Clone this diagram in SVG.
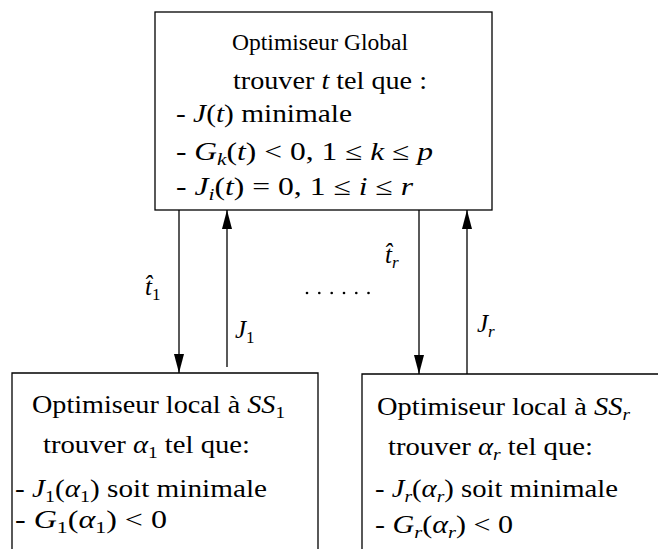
<svg xmlns="http://www.w3.org/2000/svg" width="658" height="549" viewBox="0 0 658 549">
  <style>
    .box { fill: none; stroke: #000; stroke-width: 1.3; }
    .t { font-family: "Liberation Serif", "DejaVu Serif", serif; font-size: 25px; fill: #000; }
    .title { font-family: "Liberation Serif", "DejaVu Serif", serif; font-size: 23.5px; fill: #000; }
    .m { font-style: italic; }
    .s { font-size: 17px; }
    .wire { stroke: #000; stroke-width: 1.3; fill: none; }
  </style>
  <defs>
    <marker id="head" markerUnits="userSpaceOnUse" markerWidth="19" markerHeight="10" refX="19" refY="5" orient="auto">
      <path d="M0,0 L19,5 L0,10 z" fill="#000"/>
    </marker>
  </defs>

  <!-- global optimiser -->
  <g id="global">
    <rect class="box" x="155" y="12" width="337" height="198"/>
    <text class="title" x="232" y="50" textLength="176" lengthAdjust="spacingAndGlyphs">Optimiseur Global</text>
    <text class="t" x="233" y="89" textLength="194" lengthAdjust="spacingAndGlyphs">trouver <tspan class="m">t</tspan> tel que :</text>
    <text class="t" x="176" y="122" textLength="176" lengthAdjust="spacingAndGlyphs">- <tspan class="m">J</tspan>(<tspan class="m">t</tspan>) minimale</text>
    <text class="t" x="176" y="160" textLength="257" lengthAdjust="spacingAndGlyphs">- <tspan class="m">G</tspan><tspan class="s m" dy="5">k</tspan><tspan dy="-5">(</tspan><tspan class="m">t</tspan>) &lt; 0, 1 ≤ <tspan class="m">k</tspan> ≤ <tspan class="m">p</tspan></text>
    <text class="t" x="176" y="195" textLength="237" lengthAdjust="spacingAndGlyphs">- <tspan class="m">J</tspan><tspan class="s m" dy="5">i</tspan><tspan dy="-5">(</tspan><tspan class="m">t</tspan>) = 0, 1 ≤ <tspan class="m">i</tspan> ≤ <tspan class="m">r</tspan></text>
  </g>

  <!-- local optimiser 1 -->
  <g id="local1">
    <path class="box" d="M12,549 V373 H318 V549"/>
    <text class="t" x="32" y="413" textLength="253" lengthAdjust="spacingAndGlyphs">Optimiseur local à <tspan class="m">SS</tspan><tspan class="s" dy="5">1</tspan></text>
    <text class="t" x="43" y="453" textLength="207" lengthAdjust="spacingAndGlyphs">trouver <tspan class="m">α</tspan><tspan class="s" dy="5">1</tspan><tspan dy="-5"> tel que:</tspan></text>
    <text class="t" x="15" y="497" textLength="252" lengthAdjust="spacingAndGlyphs">- <tspan class="m">J</tspan><tspan class="s" dy="5">1</tspan><tspan dy="-5">(</tspan><tspan class="m">α</tspan><tspan class="s" dy="5">1</tspan><tspan dy="-5">) soit minimale</tspan></text>
    <text class="t" x="15" y="528" textLength="152" lengthAdjust="spacingAndGlyphs">- <tspan class="m">G</tspan><tspan class="s" dy="5">1</tspan><tspan dy="-5">(</tspan><tspan class="m">α</tspan><tspan class="s" dy="5">1</tspan><tspan dy="-5">) &lt; 0</tspan></text>
  </g>

  <!-- local optimiser r -->
  <g id="localr">
    <path class="box" d="M362,549 V374 H658"/>
    <text class="t" x="377" y="415" textLength="253" lengthAdjust="spacingAndGlyphs">Optimiseur local à <tspan class="m">SS</tspan><tspan class="s m" dy="5">r</tspan></text>
    <text class="t" x="388" y="455" textLength="205" lengthAdjust="spacingAndGlyphs">trouver <tspan class="m">α</tspan><tspan class="s m" dy="5">r</tspan><tspan dy="-5"> tel que:</tspan></text>
    <text class="t" x="375" y="497" textLength="243" lengthAdjust="spacingAndGlyphs">- <tspan class="m">J</tspan><tspan class="s m" dy="5">r</tspan><tspan dy="-5">(</tspan><tspan class="m">α</tspan><tspan class="s m" dy="5">r</tspan><tspan dy="-5">) soit minimale</tspan></text>
    <text class="t" x="375" y="533" textLength="138" lengthAdjust="spacingAndGlyphs">- <tspan class="m">G</tspan><tspan class="s m" dy="5">r</tspan><tspan dy="-5">(</tspan><tspan class="m">α</tspan><tspan class="s m" dy="5">r</tspan><tspan dy="-5">) &lt; 0</tspan></text>
  </g>

  <!-- exchanges between the optimisers -->
  <g id="connectors">
    <line class="wire" x1="179" y1="210" x2="179" y2="373" marker-end="url(#head)"/>
    <line class="wire" x1="227" y1="367" x2="227" y2="210" marker-end="url(#head)"/>
    <line class="wire" x1="419" y1="210" x2="419" y2="374" marker-end="url(#head)"/>
    <line class="wire" x1="467" y1="374" x2="467" y2="210" marker-end="url(#head)"/>

    <text class="t" x="145" y="295"><tspan class="m">t̂</tspan><tspan class="s" dy="5">1</tspan></text>

    <text class="t" x="235" y="338"><tspan class="m">J</tspan><tspan class="s" dy="5">1</tspan></text>

    <text class="t" x="385" y="263"><tspan class="m">t̂</tspan><tspan class="s m" dy="5">r</tspan></text>

    <text class="t" x="477" y="332"><tspan class="m">J</tspan><tspan class="s m" dy="5">r</tspan></text>

    <g fill="#000">
      <circle cx="307" cy="293" r="1.3"/>
      <circle cx="319.3" cy="293" r="1.3"/>
      <circle cx="331.7" cy="293" r="1.3"/>
      <circle cx="344" cy="293" r="1.3"/>
      <circle cx="356.3" cy="293" r="1.3"/>
      <circle cx="368.5" cy="293" r="1.3"/>
    </g>
  </g>
</svg>
